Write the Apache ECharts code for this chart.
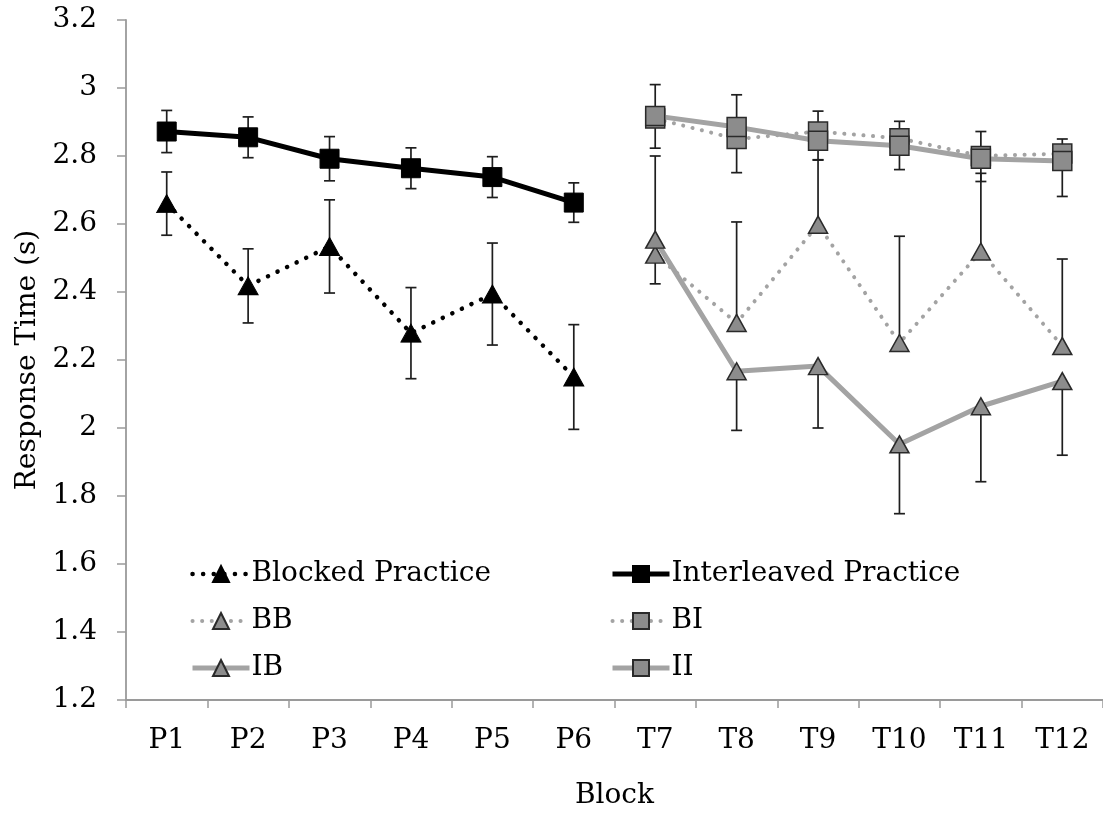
<!DOCTYPE html>
<html>
<head>
<meta charset="utf-8">
<script src="https://cdn.jsdelivr.net/npm/echarts@6/dist/echarts.min.js"></script>
<style>
html,body{margin:0;padding:0;background:#fff;}
#chart{width:1103px;height:815px;}
</style>
</head>
<body>
<div id="chart"></div>
<script>
var categories = ['P1','P2','P3','P4','P5','P6','T7','T8','T9','T10','T11','T12'];
var yTicks = [1.2,1.4,1.6,1.8,2,2.2,2.4,2.6,2.8,3,3.2];

// Practice phase (symmetric error bars)
var blockedMean  = [2.66, 2.418, 2.534, 2.279, 2.394, 2.15, null, null, null, null, null, null];
var blockedErr   = [0.093, 0.109, 0.137, 0.134, 0.15, 0.154, null, null, null, null, null, null];
var interMean    = [2.872, 2.855, 2.792, 2.764, 2.738, 2.663, null, null, null, null, null, null];
var interErr     = [0.062, 0.06, 0.065, 0.06, 0.06, 0.058, null, null, null, null, null, null];

// Test phase (one-sided error bars)
var bbMean  = [null, null, null, null, null, null, 2.51, 2.309, 2.598, 2.25, 2.519, 2.241];
var bbPlus  = [null, null, null, null, null, null, 0.29, 0.297, 0.19, 0.314, 0.23, 0.256];
var biMean  = [null, null, null, null, null, null, 2.91, 2.85, 2.872, 2.852, 2.80, 2.807];
var biPlus  = [null, null, null, null, null, null, 0.1, 0.13, 0.06, 0.05, 0.072, 0.043];
var ibMean  = [null, null, null, null, null, null, 2.554, 2.167, 2.182, 1.952, 2.064, 2.138];
var ibMinus = [null, null, null, null, null, null, 0.13, 0.174, 0.182, 0.204, 0.222, 0.218];
var iiMean  = [null, null, null, null, null, null, 2.918, 2.885, 2.845, 2.83, 2.792, 2.785];
var iiMinus = [null, null, null, null, null, null, 0.095, 0.134, 0.056, 0.07, 0.067, 0.104];

var FONT = 'DejaVu Serif';
var GRAY_LINE = '#a3a3a3';
var GRAY_FILL = '#8c8c8c';
var MARK_EDGE = '#2a2a2a';

function errData(mean, minus, plus) {
  var out = [];
  for (var i = 0; i < mean.length; i++) {
    if (mean[i] == null) continue;
    var m = minus ? minus[i] : 0;
    var p = plus ? plus[i] : 0;
    out.push([i, mean[i] - m, mean[i] + p, m > 0 ? 1 : 0, p > 0 ? 1 : 0]);
  }
  return out;
}

function errSeries(name, data) {
  return {
    type: 'custom',
    name: name + ' err',
    z: 1,
    silent: true,
    data: data,
    renderItem: function (params, api) {
      var x = api.value(0);
      var lo = api.coord([x, api.value(1)]);
      var hi = api.coord([x, api.value(2)]);
      var cap = 5.5;
      var st = { stroke: '#1e1e1e', lineWidth: 1.7 };
      var children = [{ type: 'line', shape: { x1: lo[0], y1: lo[1], x2: hi[0], y2: hi[1] }, style: st }];
      if (api.value(3)) children.push({ type: 'line', shape: { x1: lo[0] - cap, y1: lo[1], x2: lo[0] + cap, y2: lo[1] }, style: st });
      if (api.value(4)) children.push({ type: 'line', shape: { x1: hi[0] - cap, y1: hi[1], x2: hi[0] + cap, y2: hi[1] }, style: st });
      return { type: 'group', children: children };
    }
  };
}

var chart = echarts.init(document.getElementById('chart'), null, { renderer: 'canvas' });

var legendText = { fontFamily: FONT, fontSize: 28, color: '#000', padding: [0, 0, 0, -3] };

var option = {
  backgroundColor: '#ffffff',
  animation: false,
  textStyle: { fontFamily: FONT },
  grid: { left: 126, top: 20, width: 980, bottom: 114, containLabel: false },
  legend: [
    {
      data: [
        { name: 'Blocked Practice', lineStyle: { width: 4.5 } },
        { name: 'BB', lineStyle: { width: 4 } },
        { name: 'IB', lineStyle: { width: 5 } }
      ],
      orient: 'vertical', left: 190, top: 560, padding: 0,
      itemWidth: 57, itemHeight: 20, itemGap: 19, selectedMode: false,
      textStyle: legendText
    },
    {
      data: [
        { name: 'Interleaved Practice', lineStyle: { width: 5 } },
        { name: 'BI', lineStyle: { width: 4 } },
        { name: 'II', lineStyle: { width: 5 } }
      ],
      orient: 'vertical', left: 610, top: 560, padding: 0,
      itemWidth: 57, itemHeight: 20, itemGap: 19, selectedMode: false,
      textStyle: legendText
    }
  ],
  xAxis: {
    type: 'category',
    data: categories,
    boundaryGap: true,
    name: 'Block',
    nameLocation: 'middle',
    nameGap: 82,
    nameTextStyle: { fontFamily: FONT, fontSize: 28, color: '#000' },
    axisLine: { lineStyle: { color: '#9a9a9a', width: 1.8 } },
    axisTick: { show: true, length: 8, lineStyle: { color: '#9a9a9a', width: 1.5 } },
    axisLabel: { fontFamily: FONT, fontSize: 28, color: '#000', margin: 27 },
    splitLine: { show: false }
  },
  yAxis: {
    type: 'value',
    min: yTicks[0],
    max: yTicks[yTicks.length - 1],
    interval: 0.2,
    name: 'Response Time (s)',
    nameLocation: 'middle',
    nameGap: 81,
    nameRotate: 90,
    nameTextStyle: { fontFamily: FONT, fontSize: 28, color: '#000' },
    axisLine: { show: true, lineStyle: { color: '#9a9a9a', width: 1.8 } },
    axisTick: { show: true, length: 9, lineStyle: { color: '#9a9a9a', width: 1.5 } },
    axisLabel: {
      fontFamily: FONT, fontSize: 28, color: '#000', margin: 29,
      formatter: function (v) { return String(Math.round(v * 10) / 10); }
    },
    splitLine: { show: false }
  },
  series: [
    errSeries('Blocked Practice', errData(blockedMean, blockedErr, blockedErr)),
    errSeries('Interleaved Practice', errData(interMean, interErr, interErr)),
    errSeries('BB', errData(bbMean, null, bbPlus)),
    errSeries('BI', errData(biMean, null, biPlus)),
    errSeries('IB', errData(ibMean, ibMinus, null)),
    errSeries('II', errData(iiMean, iiMinus, null)),
    {
      name: 'Blocked Practice', type: 'line', z: 3, data: blockedMean,
      symbol: 'triangle', symbolSize: [20, 18], showSymbol: true,
      lineStyle: { color: '#000', width: 4.5, type: [0.1, 10.5], cap: 'round' },
      itemStyle: { color: '#000', borderColor: '#000', borderWidth: 1 }
    },
    {
      name: 'Interleaved Practice', type: 'line', z: 3, data: interMean,
      symbol: 'rect', symbolSize: 19, showSymbol: true,
      lineStyle: { color: '#000', width: 5 },
      itemStyle: { color: '#000', borderColor: '#000', borderWidth: 1 }
    },
    {
      name: 'BB', type: 'line', z: 3, data: bbMean,
      symbol: 'triangle', symbolSize: [19, 17], showSymbol: true,
      lineStyle: { color: GRAY_LINE, width: 4, type: [0.1, 9.5], cap: 'round' },
      itemStyle: { color: GRAY_FILL, borderColor: MARK_EDGE, borderWidth: 1.5 }
    },
    {
      name: 'BI', type: 'line', z: 3, data: biMean,
      symbol: 'rect', symbolSize: 19, showSymbol: true,
      lineStyle: { color: GRAY_LINE, width: 4, type: [0.1, 9.5], cap: 'round' },
      itemStyle: { color: GRAY_FILL, borderColor: MARK_EDGE, borderWidth: 1.5 }
    },
    {
      name: 'IB', type: 'line', z: 4, data: ibMean,
      symbol: 'triangle', symbolSize: [19, 17], showSymbol: true,
      lineStyle: { color: GRAY_LINE, width: 5 },
      itemStyle: { color: GRAY_FILL, borderColor: MARK_EDGE, borderWidth: 1.5 }
    },
    {
      name: 'II', type: 'line', z: 4, data: iiMean,
      symbol: 'rect', symbolSize: 19, showSymbol: true,
      lineStyle: { color: GRAY_LINE, width: 5 },
      itemStyle: { color: GRAY_FILL, borderColor: MARK_EDGE, borderWidth: 1.5 }
    }
  ]
};

chart.setOption(option);
</script>
</body>
</html>
